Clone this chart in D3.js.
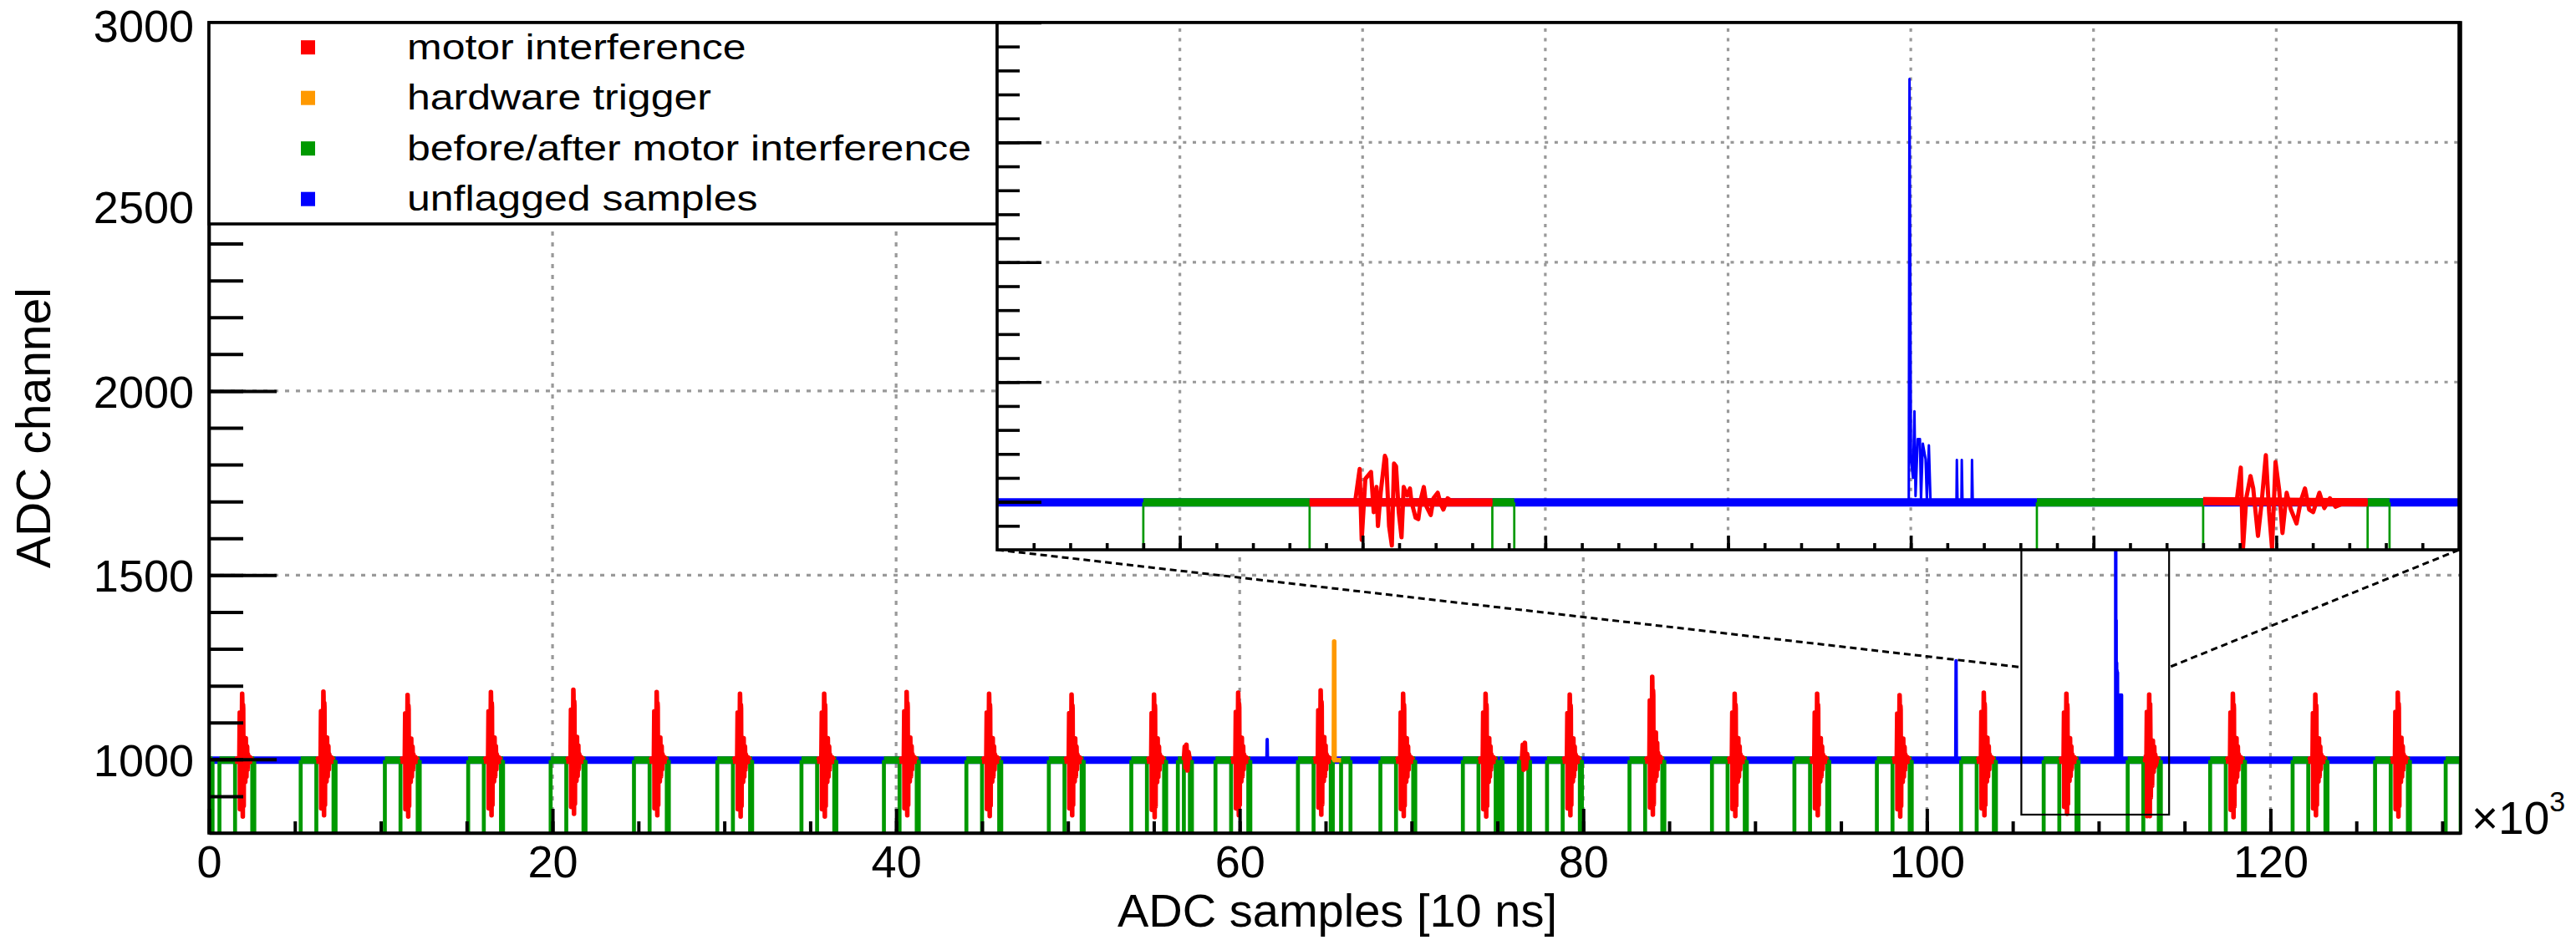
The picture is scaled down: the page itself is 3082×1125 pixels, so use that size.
<!DOCTYPE html>
<html>
<head>
<meta charset="UTF-8">
<title>ADC trace with motor interference flags</title>
<script src="https://d3js.org/d3.v7.min.js"></script>
<style>
    * { padding: 0; margin: 0; }
    body { background: #fff; }
    svg { display: block; font-family: "Liberation Sans", Arial, Helvetica, sans-serif; }
</style>
</head>
<body>
<svg id="main" width="3082" height="1125"></svg>
<script>
// ---- data ----
const nSamples = 131072;
const pedestal = 998;

const legendLabels = ["motor interference", "hardware trigger", "before/after motor interference", "unflagged samples"];
const legendColors = ["#ff0000", "#ff9900", "#009900", "#0000ff"];

const xTickValues = [0, 20000, 40000, 60000, 80000, 100000, 120000];
const yTickValues = [1000, 1500, 2000, 2500, 3000];

// start of the red window of every motor burst (samples)
const motorStart = [1520, 6250, 11150, 16000, 20800, 25650, 30500, 35400, 40200, 45000,
    49800, 54600, 59500, 64300, 69100, 73900, 78800, 83600, 88400, 93200,
    98000, 102900, 107710, 112600, 117400, 122200, 127000];
// highest / lowest ADC value of each burst in the overview
const motorMax = [1178, 1184, 1175, 1183, 1189, 1183, 1178, 1178, 1183, 1178,
    1176, 1176, 1181, 1187, 1178, 1178, 1176, 1224, 1178, 1178,
    1174, 1181, 1178, 1176, 1178, 1176, 1181];
const motorMin = [845, 848, 845, 848, 852, 848, 845, 845, 848, 846,
    848, 843, 848, 850, 846, 845, 848, 850, 846, 848,
    845, 848, 852, 846, 843, 848, 845];
// waveform used for each burst (0 = first burst of the zoom, 1 = second)
const motorShape = [0, 0, 0, 0, 0, 0, 0, 0, 0, 0, 0, 0, 0, 0, 0, 0, 0, 0, 0, 0, 0, 0, 0, 1, 0, 0, 0];

// burst waveforms from the zoom: [samples after start of red window, ADC]
const burstA = [[0, 998], [250, 1005], [274, 1137], [285, 841], [305, 1096], [336, 1125], [351, 957],
    [366, 1062], [374, 899], [389, 1038], [412, 1192], [419, 1178], [435, 899], [450, 818],
    [462, 1160], [473, 1149], [488, 957], [503, 852], [515, 1062], [534, 1027], [549, 1056],
    [557, 1003], [580, 934], [595, 928], [610, 1015], [625, 1062], [640, 980], [663, 945],
    [678, 1015], [701, 1038], [717, 992], [732, 968], [755, 1015], [800, 990], [880, 1006], [1000, 998]];
const burstB = [[0, 1003], [183, 1000], [206, 1143], [218, 806], [236, 1015], [259, 1108], [274, 1056],
    [300, 858], [320, 997], [343, 1195], [361, 957], [377, 806], [396, 1166], [416, 1050],
    [434, 870], [457, 1038], [480, 968], [511, 910], [534, 1003], [557, 1056], [580, 968],
    [602, 957], [636, 1038], [663, 974], [694, 1015], [724, 980], [800, 1004], [900, 998]];
const burstShapes = [burstA, burstB];

// green windows before / after every red window (samples)
const greenBefore = 910;
const greenAfter = 120;
const extraGreen = [[0, 210], [56400, 56750], [57100, 57220], [65900, 66450],
    [75150, 75300], [76250, 76430], [76800, 76900], [130200, 131072]];

// two small flagged bumps
const smallBursts = [
    [[56750, 998], [56800, 1035], [56850, 978], [56900, 1040], [56960, 970], [57020, 1020], [57100, 998]],
    [[76430, 998], [76480, 1040], [76530, 972], [76600, 1045], [76660, 975], [76730, 1015], [76800, 998]]
];
const triggerTrace = [[65480, 998], [65500, 1320], [65520, 998], [65900, 998]];
const blueSpikes = [
    [[61580, 998], [61600, 1054], [61620, 998]],
    [[101680, 998], [101700, 1268], [101720, 998]],
    [[110989, 998], [110993, 2765], [110996, 2133], [111001, 1180], [111012, 1100], [111020, 1378],
     [111026, 1024], [111038, 1262], [111050, 1262], [111056, 1010], [111066, 1243], [111081, 1178],
     [111088, 1010], [111099, 1236], [111108, 1000], [111250, 998], [111252, 1175], [111256, 998],
     [111277, 998], [111279, 1175], [111283, 998], [111333, 998], [111335, 1175], [111339, 998]]
];

const zoomRange = [106000, 114000];
const zoomBox = [105500, 114100, 850, 3000];
const linkLevel = 1250;

// ---- layout ----
const frame = { left: 250, right: 2944, top: 27, bottom: 997 };
const inset = { left: 1193, right: 2942, top: 27, bottom: 658 };
const legendBox = { left: 250, right: 1193, top: 27, bottom: 268 };
const red = legendColors[0], orange = legendColors[1], green = legendColors[2], blue = legendColors[3];

const svg = d3.select("#main");

const xMain = d3.scaleLinear().domain([0, nSamples]).range([frame.left, frame.right]);
const yMain = d3.scaleLinear().domain([800, 3000]).range([frame.bottom, frame.top]);
const xZoom = d3.scaleLinear().domain(zoomRange).range([inset.left, inset.right]);
const yZoom = d3.scaleLinear().domain([800, 3000]).range([inset.bottom, inset.top]);

const defs = svg.append("defs");
defs.append("clipPath").attr("id", "clipMain").append("rect")
    .attr("x", frame.left).attr("y", frame.top)
    .attr("width", frame.right - frame.left).attr("height", frame.bottom - frame.top);
defs.append("clipPath").attr("id", "clipZoom").append("rect")
    .attr("x", inset.left).attr("y", inset.top)
    .attr("width", inset.right - inset.left).attr("height", inset.bottom - inset.top);

const greenWindows = motorStart.flatMap((s, i) => {
    const shape = burstShapes[motorShape[i]];
    const end = s + shape[shape.length - 1][0];
    return [[s - greenBefore, s], [end, end + greenAfter]];
}).concat(extraGreen);

function burstPoints(i, scaled) {
    const shape = burstShapes[motorShape[i]];
    const top = d3.max(shape, d => d[1]), low = d3.min(shape, d => d[1]);
    return shape.map(([dt, v]) => {
        let val = v;
        if (scaled) {
            val = v > pedestal
                ? pedestal + (v - pedestal) * (motorMax[i] - pedestal) / (top - pedestal)
                : pedestal - (pedestal - v) * (pedestal - motorMin[i]) / (pedestal - low);
        }
        return [motorStart[i] + dt, val];
    });
}

function drawGrid(g, x, y, xs, ys, x0, x1, y0, y1, dash) {
    g.selectAll(null).data(xs).enter().append("line")
        .attr("x1", d => x(d)).attr("x2", d => x(d)).attr("y1", y0).attr("y2", y1)
        .attr("stroke", "#999").attr("stroke-width", 3.2).attr("stroke-dasharray", dash);
    g.selectAll(null).data(ys).enter().append("line")
        .attr("x1", x0).attr("x2", x1).attr("y1", d => y(d)).attr("y2", d => y(d))
        .attr("stroke", "#999").attr("stroke-width", 3.2).attr("stroke-dasharray", dash);
}

function drawTrace(g, x, y, w, scaled) {
    const line = d3.line().x(d => x(d[0])).y(d => y(d[1]));
    const path = (pts, color, width) => g.append("path").attr("d", line(pts))
        .attr("fill", "none").attr("stroke", color).attr("stroke-width", width)
        .attr("stroke-linejoin", "round");
    path([[0, pedestal], [nSamples, pedestal]], blue, w.band);
    blueSpikes.forEach(s => path(s, blue, w.spike));
    greenWindows.forEach(([a, b]) => {
        path([[a, pedestal], [b, pedestal]], green, w.band);
        path([[a, pedestal], [a, 0]], green, w.drop);
        path([[b, pedestal], [b, 0]], green, w.drop);
    });
    motorStart.forEach((s, i) => {
        const pts = burstPoints(i, scaled);
        path([pts[0], [pts[pts.length - 1][0], pedestal]], red, w.band);
        path(pts, red, w.red);
    });
    smallBursts.forEach(b => {
        path([b[0], b[b.length - 1]], red, w.band);
        path(b, red, w.red);
    });
    path(triggerTrace, orange, w.trig);
}

function styleAxis(g, width) {
    g.selectAll(".tick line").attr("stroke", "#000").attr("stroke-width", width);
    g.select(".domain").attr("stroke", "#000").attr("stroke-width", 3.6);
}

// ---- main pad ----
const gridMain = svg.append("g");
drawGrid(gridMain, xMain, yMain, xTickValues.slice(1), [1000, 1500, 2000, 2500],
    frame.left, frame.right, frame.bottom, frame.top, "5,8");

const traceMain = svg.append("g").attr("clip-path", "url(#clipMain)");
drawTrace(traceMain, xMain, yMain, { band: 9, spike: 4, drop: 4.7, red: 5.5, trig: 5.5 }, true);

svg.append("rect")
    .attr("x", frame.left).attr("y", frame.top)
    .attr("width", frame.right - frame.left).attr("height", frame.bottom - frame.top)
    .attr("fill", "none").attr("stroke", "#000").attr("stroke-width", 3.6);

const xMinor = svg.append("g").attr("transform", `translate(0,${frame.bottom})`)
    .call(d3.axisBottom(xMain).tickValues(d3.range(5000, nSamples, 5000)).tickSize(-14).tickSizeOuter(0).tickFormat(""));
xMinor.select(".domain").remove();
styleAxis(xMinor, 4);
const yMinor = svg.append("g").attr("transform", `translate(${frame.left},0)`)
    .call(d3.axisLeft(yMain).tickValues(d3.range(900, 3000, 100)).tickSize(-41).tickSizeOuter(0).tickFormat(""));
yMinor.select(".domain").remove();
styleAxis(yMinor, 4);

const xAxis = svg.append("g").attr("transform", `translate(0,${frame.bottom})`)
    .call(d3.axisBottom(xMain).tickValues(xTickValues).tickSize(-29).tickSizeOuter(0)
        .tickPadding(15).tickFormat(d => d / 1000));
styleAxis(xAxis, 4);
xAxis.selectAll("text").attr("font-size", 54).attr("fill", "#000")
    .attr("font-family", "Liberation Sans, Arial, sans-serif");

const yAxis = svg.append("g").attr("transform", `translate(${frame.left},0)`)
    .call(d3.axisLeft(yMain).tickValues(yTickValues).tickSize(-81).tickSizeOuter(0).tickPadding(18)
        .tickFormat(d3.format("d")));
styleAxis(yAxis, 4);
yAxis.selectAll("text").attr("font-size", 54).attr("fill", "#000")
    .attr("dy", d => d === 3000 ? "0.42em" : "0.36em")
    .attr("font-family", "Liberation Sans, Arial, sans-serif");

// zoom box and connectors
svg.append("rect")
    .attr("x", xMain(zoomBox[0])).attr("y", yMain(zoomBox[3]))
    .attr("width", xMain(zoomBox[1]) - xMain(zoomBox[0]))
    .attr("height", yMain(zoomBox[2]) - yMain(zoomBox[3]))
    .attr("fill", "none").attr("stroke", "#000").attr("stroke-width", 2.2);
const links = [
    [[inset.left, inset.bottom], [xMain(zoomBox[0]), yMain(linkLevel)]],
    [[inset.right, inset.bottom], [xMain(zoomBox[1]), yMain(linkLevel)]]
];
svg.selectAll(null).data(links).enter().append("line")
    .attr("x1", d => d[0][0]).attr("y1", d => d[0][1])
    .attr("x2", d => d[1][0]).attr("y2", d => d[1][1])
    .attr("stroke", "#000").attr("stroke-width", 3).attr("stroke-dasharray", "8,5");

// axis titles
svg.append("text").attr("x", 1600).attr("y", 1109).attr("text-anchor", "middle")
    .attr("font-size", 56).text("ADC samples [10 ns]");
svg.append("text").attr("transform", "translate(60,512) rotate(-90)").attr("text-anchor", "middle")
    .attr("font-size", 57).text("ADC channel");
const expo = svg.append("text").attr("x", 2957).attr("y", 998).attr("font-size", 55);
expo.append("tspan").text("\u00d710");
expo.append("tspan").attr("font-size", 34).attr("dy", -27).text("3");

// ---- legend ----
const legend = svg.append("g");
legend.append("rect")
    .attr("x", legendBox.left).attr("y", legendBox.top)
    .attr("width", legendBox.right - legendBox.left).attr("height", legendBox.bottom - legendBox.top)
    .attr("fill", "#fff").attr("stroke", "#000").attr("stroke-width", 3.6);
const entry = legend.selectAll(null).data(legendLabels).enter().append("g")
    .attr("transform", (d, i) => `translate(0,${56.7 + i * 60.5})`);
entry.append("rect").attr("x", 360).attr("y", -8.5).attr("width", 17).attr("height", 17)
    .attr("fill", (d, i) => legendColors[i]);
entry.append("text").attr("transform", "translate(487,14) scale(1.19,1)")
    .attr("font-size", 42).attr("fill", "#000").text(d => d);

// ---- zoom pad ----
const zoomPad = svg.append("g");
zoomPad.append("rect")
    .attr("x", inset.left).attr("y", inset.top)
    .attr("width", inset.right - inset.left).attr("height", inset.bottom - inset.top)
    .attr("fill", "#fff");
drawGrid(zoomPad, xZoom, yZoom, d3.range(107000, 114000, 1000), [1000, 1500, 2000, 2500],
    inset.left, inset.right, inset.bottom, inset.top, "4,7.7");

const traceZoom = zoomPad.append("g").attr("clip-path", "url(#clipZoom)");
drawTrace(traceZoom, xZoom, yZoom, { band: 10, spike: 3, drop: 2.7, red: 5, trig: 3 }, false);

const zxMinor = zoomPad.append("g").attr("transform", `translate(0,${inset.bottom})`)
    .call(d3.axisBottom(xZoom).tickValues(d3.range(106200, 114000, 200)).tickSize(-8).tickSizeOuter(0).tickFormat(""));
zxMinor.select(".domain").remove();
styleAxis(zxMinor, 3.6);
const zxMajor = zoomPad.append("g").attr("transform", `translate(0,${inset.bottom})`)
    .call(d3.axisBottom(xZoom).tickValues(d3.range(107000, 114000, 1000)).tickSize(-17).tickSizeOuter(0).tickFormat(""));
zxMajor.select(".domain").remove();
styleAxis(zxMajor, 3.6);
const zyMinor = zoomPad.append("g").attr("transform", `translate(${inset.left},0)`)
    .call(d3.axisLeft(yZoom).tickValues(d3.range(900, 3000, 100)).tickSize(-27).tickSizeOuter(0).tickFormat(""));
zyMinor.select(".domain").remove();
styleAxis(zyMinor, 3.6);
const zyMajor = zoomPad.append("g").attr("transform", `translate(${inset.left},0)`)
    .call(d3.axisLeft(yZoom).tickValues(yTickValues).tickSize(-53).tickSizeOuter(0).tickFormat(""));
zyMajor.select(".domain").remove();
styleAxis(zyMajor, 3.6);

zoomPad.append("rect")
    .attr("x", inset.left).attr("y", inset.top)
    .attr("width", inset.right - inset.left).attr("height", inset.bottom - inset.top)
    .attr("fill", "none").attr("stroke", "#000").attr("stroke-width", 3.6);
</script>
</body>
</html>
